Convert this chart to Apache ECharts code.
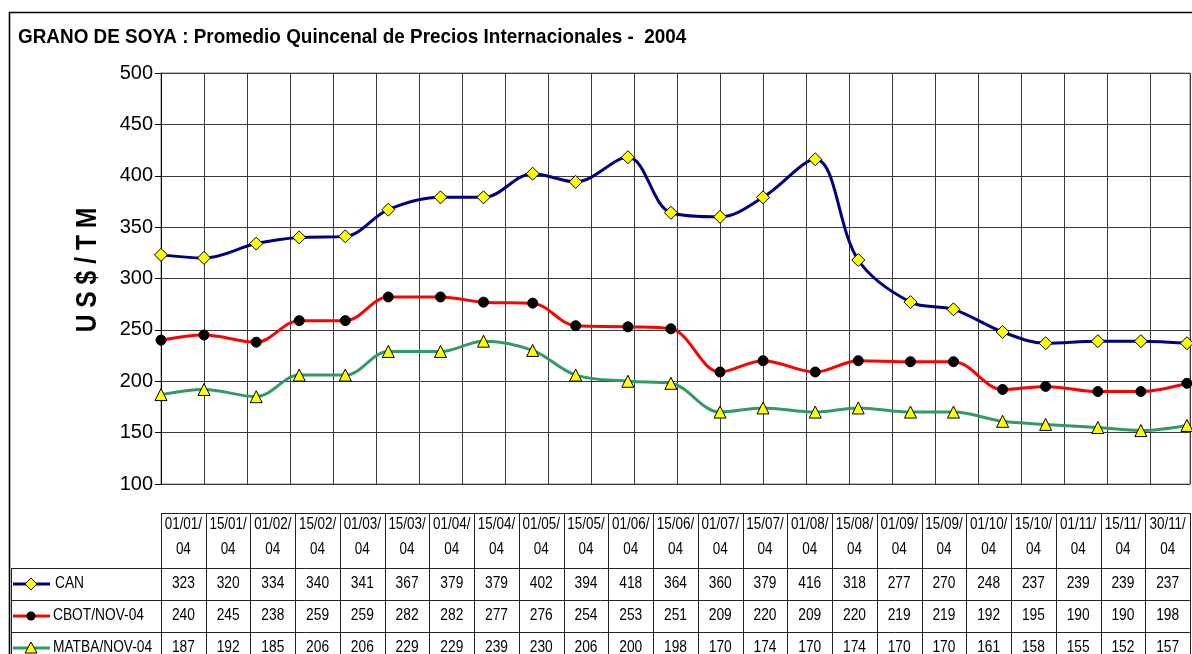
<!DOCTYPE html>
<html lang="es">
<head>
<meta charset="UTF-8">
<title>Grano de soya 2004</title>
<script src="https://cdn.jsdelivr.net/npm/echarts@6/dist/echarts.min.js"></script>
<style>
    html, body { margin: 0; padding: 0; background: #fff; }
    #chart { width: 1192px; height: 654px; }
</style>
</head>
<body>
<div id="chart"></div>
<script>
    // fechas quincenales
    var fechas = ['01/01/04', '15/01/04', '01/02/04', '15/02/04', '01/03/04', '15/03/04', '01/04/04', '15/04/04',
        '01/05/04', '15/05/04', '01/06/04', '15/06/04', '01/07/04', '15/07/04', '01/08/04', '15/08/04',
        '01/09/04', '15/09/04', '01/10/04', '15/10/04', '01/11/04', '15/11/04', '30/11/04'];
    var can   = [323, 320, 334, 340, 341, 367, 379, 379, 402, 394, 418, 364, 360, 379, 416, 318, 277, 270, 248, 237, 239, 239, 237];
    var cbot  = [240, 245, 238, 259, 259, 282, 282, 277, 276, 254, 253, 251, 209, 220, 209, 220, 219, 219, 192, 195, 190, 190, 198];
    var matba = [187, 192, 185, 206, 206, 229, 229, 239, 230, 206, 200, 198, 170, 174, 170, 174, 170, 170, 161, 158, 155, 152, 157];
    var nombres = ['CAN', 'CBOT/NOV-04', 'MATBA/NOV-04'];
    var yMin = 100, yMax = 500, yPaso = 50;
    var diasMax = 335, diasPaso = 14;

    // dias desde el 01/01/04
    function dia(f) {
        var p = f.split('/');
        return (Date.UTC(2000 + (+p[2]), p[1] - 1, +p[0]) - Date.UTC(2004, 0, 1)) / 86400000;
    }
    function puntos(vals) {
        return fechas.map(function (f, i) { return [dia(f), vals[i]]; });
    }

    var colores = ['#000080', '#ff0000', '#339966'];
    var series = [can, cbot, matba];
    var simbolos = [
        {symbol: 'diamond', size: 13, color: '#ffff00', border: '#000'},
        {symbol: 'circle', size: 10, color: '#000', border: '#000'},
        {symbol: 'triangle', size: 12, color: '#ffff00', border: '#000'}
    ];

    // --- tabla de datos (debajo del grafico)
    var tx0 = 161, tx1 = 1190, colW = (tx1 - tx0) / fechas.length;
    var hTop = 513, hBot = 568, filaH = 32, lx = 11;
    var lineaTabla = {stroke: '#222', lineWidth: 1};
    var graficos = [];

    // marco exterior
    graficos.push({type: 'polyline', shape: {points: [[9.5, 654], [9.5, 12.5], [1192, 12.5]]},
        style: {stroke: '#000', lineWidth: 1.6, fill: null}});
    // titulo
    graficos.push({type: 'text', x: 18, y: 37, scaleX: 0.9,
        style: {text: 'GRANO DE SOYA : Promedio Quincenal de Precios Internacionales -  2004',
            font: 'bold 21px "Liberation Sans", Arial, sans-serif', fill: '#000', verticalAlign: 'middle'}});
    // titulo eje y
    graficos.push({type: 'text', x: 88, y: 270, rotation: Math.PI / 2, scaleX: 0.85,
        style: {text: 'U S $ / T M', font: 'bold 29px "Liberation Sans", Arial, sans-serif', fill: '#000',
            align: 'center', verticalAlign: 'middle'}});

    // lineas horizontales de la tabla
    graficos.push({type: 'line', shape: {x1: tx0, y1: hTop + 0.5, x2: tx1, y2: hTop + 0.5}, style: lineaTabla});
    for (var r = 0; r < 3; r++) {
        var yy = hBot + r * filaH + 0.5;
        graficos.push({type: 'line', shape: {x1: lx, y1: yy, x2: tx1, y2: yy}, style: lineaTabla});
    }
    graficos.push({type: 'line', shape: {x1: lx + 0.5, y1: hBot, x2: lx + 0.5, y2: 654}, style: lineaTabla});
    for (var k = 0; k <= fechas.length; k++) {
        var xx = Math.round(tx0 + k * colW) + 0.5;
        graficos.push({type: 'line', shape: {x1: xx, y1: hTop, x2: xx, y2: 654}, style: lineaTabla});
    }
    var fuenteTabla = '16px "Liberation Sans", Arial, sans-serif';
    fechas.forEach(function (f, i) {
        var cx = tx0 + (i + 0.5) * colW;
        graficos.push({type: 'text', x: cx, y: 525, scaleX: 0.84,
            style: {text: f.slice(0, 6), font: fuenteTabla, fill: '#000', align: 'center', verticalAlign: 'middle'}});
        graficos.push({type: 'text', x: cx, y: 550, scaleX: 0.84,
            style: {text: f.slice(6), font: fuenteTabla, fill: '#000', align: 'center', verticalAlign: 'middle'}});
        series.forEach(function (s, j) {
            graficos.push({type: 'text', x: cx, y: hBot + j * filaH + 16, scaleX: 0.86,
                style: {text: String(s[i]), font: fuenteTabla, fill: '#000', align: 'center', verticalAlign: 'middle'}});
        });
    });
    // claves de la leyenda en la tabla
    nombres.forEach(function (n, j) {
        var cy = hBot + j * filaH + 16;
        graficos.push({type: 'line', shape: {x1: 13, y1: cy, x2: 50, y2: cy}, style: {stroke: colores[j], lineWidth: 3}});
        if (j === 0) {
            graficos.push({type: 'polygon', shape: {points: [[31, cy - 6], [37, cy], [31, cy + 6], [25, cy]]},
                style: {fill: '#ffff00', stroke: '#000', lineWidth: 1}});
        } else if (j === 1) {
            graficos.push({type: 'circle', shape: {cx: 31, cy: cy, r: 4.5}, style: {fill: '#000'}});
        } else {
            graficos.push({type: 'polygon', shape: {points: [[31, cy - 6], [37, cy + 5], [25, cy + 5]]},
                style: {fill: '#ffff00', stroke: '#000', lineWidth: 1}});
        }
        graficos.push({type: 'text', x: j === 0 ? 55 : 53, y: cy, scaleX: 0.86,
            style: {text: n, font: fuenteTabla, fill: '#000', verticalAlign: 'middle'}});
    });

    var chart = echarts.init(document.getElementById('chart'));
    var option = {
        animation: false,
        backgroundColor: '#fff',
        grid: {left: 161, right: 2, top: 73, bottom: 170, show: true, borderColor: '#808080', borderWidth: 1},
        xAxis: {
            type: 'value', min: 0, max: diasMax, interval: diasPaso,
            axisLine: {show: false}, axisTick: {show: false}, axisLabel: {show: false},
            splitLine: {show: true, lineStyle: {color: '#3a3a3a', width: 1}}
        },
        yAxis: {
            type: 'value', min: yMin, max: yMax, interval: yPaso,
            axisLine: {show: true, lineStyle: {color: '#000', width: 1}},
            axisTick: {show: true, inside: false, length: 6, lineStyle: {color: '#000'}},
            axisLabel: {color: '#000', fontSize: 20, fontFamily: 'Liberation Sans', margin: 8},
            splitLine: {show: true, lineStyle: {color: '#3a3a3a', width: 1}}
        },
        series: series.map(function (s, j) {
            return {
                name: nombres[j],
                type: 'line',
                data: puntos(s),
                smooth: 0.35,
                symbol: simbolos[j].symbol,
                symbolSize: simbolos[j].size,
                lineStyle: {color: colores[j], width: 3},
                itemStyle: {color: simbolos[j].color, borderColor: simbolos[j].border, borderWidth: 1},
                z: 3 + j
            };
        }),
        graphic: graficos
    };
    chart.setOption(option);
</script>
</body>
</html>
